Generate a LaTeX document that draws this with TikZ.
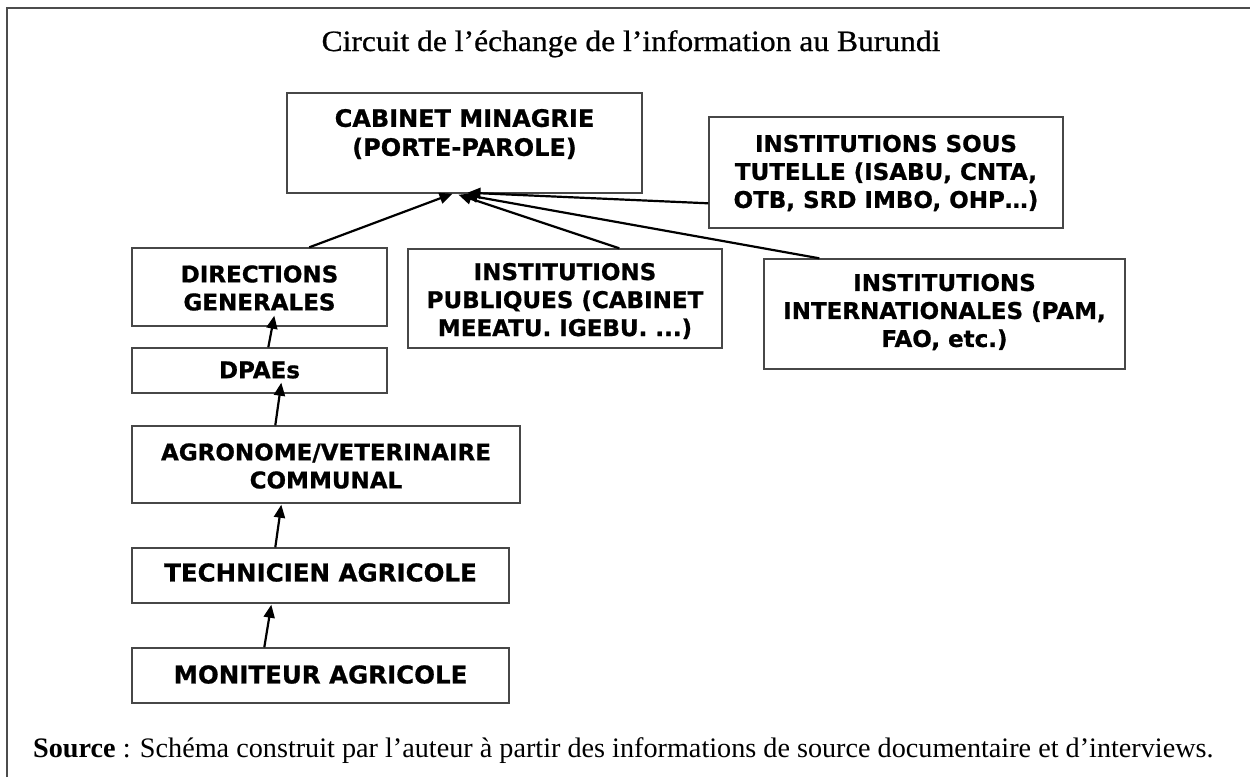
\documentclass[tikz,border=0pt]{standalone}
\usepackage{fontspec}
\setmainfont{Liberation Serif}
\newfontface\boxfont{DejaVu Sans Bold}[FakeBold=0.8]
\newfontface\titlefont{Liberation Serif}[FakeStretch=1.07,FakeBold=0.7]
\usetikzlibrary{arrows.meta,calc,fit}
\begin{document}
\begin{tikzpicture}[x=1pt,y=-1pt,
  box/.style={draw=black!72,line width=1.4pt,inner sep=0pt},
  lbl/.style={font=\boxfont\fontsize{23}{28}\selectfont,align=center,inner sep=0pt},
  big/.style={font=\boxfont\fontsize{24.5}{30}\selectfont,align=center,inner sep=0pt},
  link/.style={line width=2.2pt,-{Triangle[length=13pt,width=11pt]}}]
\useasboundingbox (0,0) rectangle (1250,777);
\draw[line width=1.5pt,black!70] (7,777) -- (7,8) -- (1250,8);

\node[anchor=base,font=\titlefont\fontsize{29.5}{34}\selectfont,inner sep=0pt] (title) at (631,51) {Circuit de l’échange de l’information au Burundi};

\node[box,fit={(287,93)(642,193)}] (cab) {};
\node[lbl,font=\boxfont\fontsize{24}{29}\selectfont] (cabt) at (464.5,134) {CABINET MINAGRIE\\(PORTE-PAROLE)};

\node[box,fit={(709,117)(1063,228)}] (tut) {};
\node[lbl] (tutt) at (886,173) {INSTITUTIONS SOUS\\TUTELLE (ISABU, CNTA,\\OTB, SRD IMBO, OHP…)};

\node[box,fit={(132,248)(387,326)}] (dir) {};
\node[lbl] (dirt) at (259.5,288) {DIRECTIONS\\GENERALES};

\node[box,fit={(408,249)(722,348)}] (pub) {};
\node[lbl] (pubt) at (565,301) {INSTITUTIONS\\PUBLIQUES (CABINET\\MEEATU. IGEBU. ...)};

\node[box,fit={(764,259)(1125,369)}] (int) {};
\node[lbl] (intt) at (944.5,312) {INSTITUTIONS\\INTERNATIONALES (PAM,\\FAO, etc.)};

\node[box,fit={(132,348)(387,393)}] (dpa) {};
\node[lbl] (dpat) at (259.5,370) {DPAEs};

\node[box,fit={(132,426)(520,503)}] (agr) {};
\node[lbl] (agrt) at (326,466) {AGRONOME/VETERINAIRE\\COMMUNAL};

\node[box,fit={(132,548)(509,603)}] (tec) {};
\node[big] (tect) at (320.5,572.5) {TECHNICIEN AGRICOLE};

\node[box,fit={(132,648)(509,703)}] (mon) {};
\node[big] (mont) at (320.5,674.5) {MONITEUR AGRICOLE};

\draw[link] ($(dir.north west)+(178,0)$) -- ($(cab.south)+(-12,0)$);
\draw[link] ($(pub.north west)+(212,0)$) -- ($(cab.south)+(-6,1)$);
\draw[link] ($(int.north west)+(56,0)$) -- ($(cab.south)+(0,1)$);
\draw[link] ($(tut.north west)+(0,87)$) -- ($(cab.south)+(3,-1)$);
\draw[link] ($(dpa.north west)+(137,0)$) -- ($(dir.south west)+(143,-11)$);
\draw[link] ($(agr.north west)+(144,0)$) -- ($(dpa.south west)+(150,-11)$);
\draw[link] ($(tec.north west)+(144,0)$) -- ($(agr.south west)+(150,1)$);
\draw[link] ($(mon.north west)+(133,0)$) -- ($(tec.south west)+(140,1)$);

\node[anchor=base west,font=\fontsize{28.2}{32}\selectfont,inner sep=0pt] (src) at (33,757) {\textbf{Source} : Schéma construit par l’auteur à partir des informations de source documentaire et d’interviews.};
\end{tikzpicture}
\end{document}
